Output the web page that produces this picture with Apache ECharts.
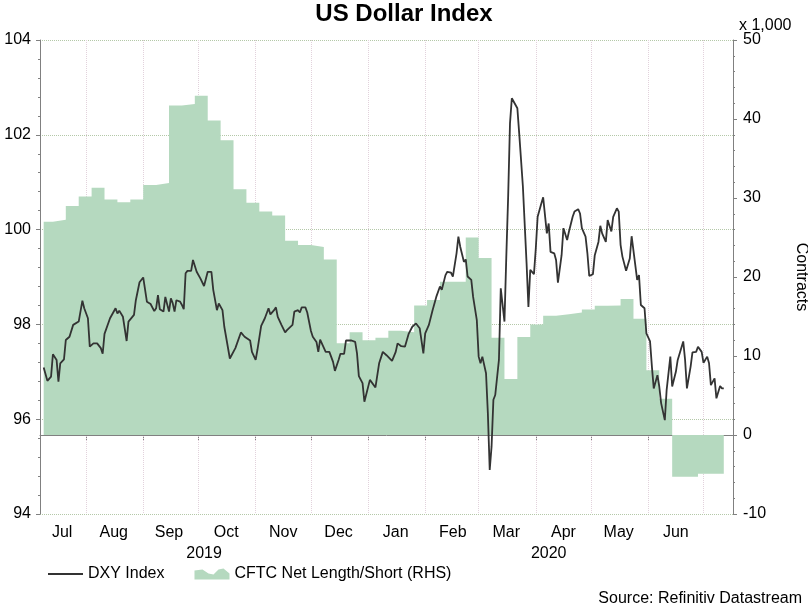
<!DOCTYPE html>
<html>
<head>
<meta charset="utf-8">
<script src="https://cdn.jsdelivr.net/npm/echarts@6/dist/echarts.min.js"></script>
<style>
    html, body { margin: 0; padding: 0; background: #fff; }
    #chart { width: 808px; height: 610px; }
</style>
</head>
<body>
<div id="chart"></div>
<script>
/* DXY Index, daily close */
var dxyDates = [
    '2019-07-09', '2019-07-11', '2019-07-13', '2019-07-14', '2019-07-16', '2019-07-17', '2019-07-18', '2019-07-20',
    '2019-07-21', '2019-07-23', '2019-07-25', '2019-07-28', '2019-07-30', '2019-07-31', '2019-08-02', '2019-08-03',
    '2019-08-05', '2019-08-06', '2019-08-07', '2019-08-09', '2019-08-10', '2019-08-11', '2019-08-14', '2019-08-15',
    '2019-08-17', '2019-08-18', '2019-08-19', '2019-08-21', '2019-08-23', '2019-08-24', '2019-08-25', '2019-08-27',
    '2019-08-28', '2019-08-30', '2019-08-31', '2019-09-01', '2019-09-03', '2019-09-05', '2019-09-07', '2019-09-08',
    '2019-09-09', '2019-09-10', '2019-09-12', '2019-09-13', '2019-09-15', '2019-09-16', '2019-09-17', '2019-09-18',
    '2019-09-19', '2019-09-21', '2019-09-22', '2019-09-23', '2019-09-24', '2019-09-25', '2019-09-27', '2019-09-28',
    '2019-09-30', '2019-10-02', '2019-10-04', '2019-10-06', '2019-10-08', '2019-10-09', '2019-10-11', '2019-10-12',
    '2019-10-14', '2019-10-15', '2019-10-18', '2019-10-19', '2019-10-21', '2019-10-22', '2019-10-24', '2019-10-26',
    '2019-10-29', '2019-10-30', '2019-11-01', '2019-11-02', '2019-11-04', '2019-11-05', '2019-11-06', '2019-11-08',
    '2019-11-09', '2019-11-11', '2019-11-12', '2019-11-13', '2019-11-15', '2019-11-17', '2019-11-18', '2019-11-21',
    '2019-11-22', '2019-11-24', '2019-11-25', '2019-11-26', '2019-11-28', '2019-11-29', '2019-12-01', '2019-12-02',
    '2019-12-04', '2019-12-05', '2019-12-06', '2019-12-07', '2019-12-09', '2019-12-11', '2019-12-13', '2019-12-14',
    '2019-12-16', '2019-12-17', '2019-12-19', '2019-12-20', '2019-12-23', '2019-12-25', '2019-12-26', '2019-12-27',
    '2019-12-29', '2019-12-30', '2019-12-31', '2020-01-02', '2020-01-03', '2020-01-05', '2020-01-07', '2020-01-09',
    '2020-01-11', '2020-01-12', '2020-01-14', '2020-01-16', '2020-01-17', '2020-01-19', '2020-01-21', '2020-01-23',
    '2020-01-25', '2020-01-27', '2020-01-29', '2020-01-31', '2020-02-01', '2020-02-03', '2020-02-05', '2020-02-07',
    '2020-02-09', '2020-02-10', '2020-02-12', '2020-02-13', '2020-02-15', '2020-02-16', '2020-02-18', '2020-02-19',
    '2020-02-20', '2020-02-22', '2020-02-23', '2020-02-24', '2020-02-26', '2020-02-27', '2020-02-29', '2020-03-01',
    '2020-03-02', '2020-03-03', '2020-03-05', '2020-03-06', '2020-03-07', '2020-03-08', '2020-03-09', '2020-03-10',
    '2020-03-12', '2020-03-13', '2020-03-15', '2020-03-16', '2020-03-17', '2020-03-18', '2020-03-19', '2020-03-20',
    '2020-03-22', '2020-03-23', '2020-03-25', '2020-03-27', '2020-03-28', '2020-03-29', '2020-03-31', '2020-04-01',
    '2020-04-02', '2020-04-04', '2020-04-05', '2020-04-07', '2020-04-08', '2020-04-09', '2020-04-11', '2020-04-12',
    '2020-04-13', '2020-04-15', '2020-04-16', '2020-04-18', '2020-04-19', '2020-04-21', '2020-04-22', '2020-04-24',
    '2020-04-25', '2020-04-26', '2020-04-28', '2020-04-29', '2020-04-30', '2020-05-02', '2020-05-03', '2020-05-05',
    '2020-05-06', '2020-05-07', '2020-05-09', '2020-05-10', '2020-05-12', '2020-05-13', '2020-05-15', '2020-05-16',
    '2020-05-17', '2020-05-18', '2020-05-20', '2020-05-22', '2020-05-23', '2020-05-24', '2020-05-26', '2020-05-27',
    '2020-05-28', '2020-05-30', '2020-05-31', '2020-06-02', '2020-06-03', '2020-06-04', '2020-06-06', '2020-06-07',
    '2020-06-08', '2020-06-10', '2020-06-11', '2020-06-13', '2020-06-14', '2020-06-16', '2020-06-17', '2020-06-20',
    '2020-06-21', '2020-06-22', '2020-06-24', '2020-06-25', '2020-06-27', '2020-06-28', '2020-06-30', '2020-07-01',
    '2020-07-03', '2020-07-04', '2020-07-05', '2020-07-07', '2020-07-08', '2020-07-10', '2020-07-11', '2020-07-12'
];
var dxyValues = [
    97.09, 96.81, 96.90, 97.37, 97.25, 96.79, 97.18, 97.26,
    97.67, 97.74, 97.99, 98.06, 98.50, 98.34, 98.13, 97.53,
    97.60, 97.57, 97.60, 97.50, 97.38, 97.80, 98.13, 98.15,
    98.34, 98.23, 98.29, 98.16, 97.65, 98.06, 98.08, 98.20,
    98.51, 98.89, 98.90, 98.99, 98.48, 98.43, 98.28, 98.34,
    98.62, 98.32, 98.27, 98.58, 98.27, 98.55, 98.45, 98.27,
    98.51, 98.48, 98.41, 98.32, 99.08, 99.13, 99.13, 99.36,
    99.11, 98.97, 98.81, 99.11, 99.11, 98.73, 98.30, 98.44,
    98.30, 97.95, 97.28, 97.31, 97.50, 97.46, 97.83, 97.74,
    97.66, 97.42, 97.25, 97.47, 97.97, 97.95, 98.13, 98.34,
    98.21, 98.30, 98.36, 98.16, 97.99, 97.83, 97.88, 97.99,
    98.27, 98.30, 98.25, 98.36, 98.36, 98.25, 97.86, 97.74,
    97.63, 97.42, 97.68, 97.66, 97.42, 97.42, 97.21, 97.02,
    97.25, 97.38, 97.38, 97.66, 97.66, 97.63, 97.39, 96.91,
    96.76, 96.37, 96.37, 96.83, 96.86, 96.67, 97.18, 97.42,
    97.35, 97.35, 97.23, 97.42, 97.60, 97.54, 97.53, 97.80,
    97.95, 98.02, 97.92, 97.39, 97.81, 97.99, 98.30, 98.58,
    98.80, 98.73, 99.04, 99.11, 99.09, 99.01, 99.50, 99.85,
    99.64, 99.32, 99.37, 99.01, 98.94, 98.58, 98.09, 97.32,
    97.18, 97.32, 96.97, 96.12, 94.93, 95.42, 96.41, 96.51,
    97.25, 98.76, 98.06, 99.43, 100.69, 102.24, 102.77, 102.80,
    102.56, 102.03, 100.91, 99.29, 98.37, 99.15, 99.06, 99.60,
    100.27, 100.55, 100.68, 99.92, 100.13, 99.53, 99.50, 99.36,
    98.88, 99.46, 100.03, 99.78, 99.96, 100.27, 100.38, 100.43,
    100.34, 100.03, 99.85, 99.50, 99.02, 99.06, 99.46, 99.74,
    100.08, 99.92, 99.74, 100.20, 99.96, 100.27, 100.45, 100.38,
    99.68, 99.43, 99.13, 99.39, 99.86, 99.86, 98.94, 99.04,
    98.41, 98.34, 97.81, 97.64, 97.11, 96.65, 96.93, 96.69,
    96.34, 95.98, 96.62, 97.32, 96.69, 97.00, 97.25, 97.64,
    97.25, 96.65, 97.11, 97.41, 97.42, 97.53, 97.42, 97.19,
    97.32, 97.18, 96.72, 96.86, 96.44, 96.70, 96.65, 96.65
];

/* CFTC net length/short, weekly, x 1,000 contracts */
var cftcDates = [
    '2019-07-09', '2019-07-14', '2019-07-21', '2019-07-28', '2019-08-04', '2019-08-11', '2019-08-18', '2019-08-25',
    '2019-09-01', '2019-09-08', '2019-09-15', '2019-09-22', '2019-09-29', '2019-10-06', '2019-10-13', '2019-10-20',
    '2019-10-27', '2019-11-03', '2019-11-10', '2019-11-17', '2019-11-24', '2019-12-01', '2019-12-08', '2019-12-15',
    '2019-12-22', '2019-12-29', '2020-01-05', '2020-01-12', '2020-01-19', '2020-01-26', '2020-02-02', '2020-02-09',
    '2020-02-16', '2020-02-23', '2020-03-01', '2020-03-08', '2020-03-15', '2020-03-22', '2020-03-29', '2020-04-05',
    '2020-04-12', '2020-04-19', '2020-04-26', '2020-05-03', '2020-05-10', '2020-05-17', '2020-05-24', '2020-05-31',
    '2020-06-07', '2020-06-14', '2020-06-21', '2020-06-28', '2020-07-05', '2020-07-12'
];
var cftcValues = [
    27.0, 27.25, 29.0, 30.2, 31.3, 29.8, 29.45, 29.8,
    31.65, 31.9, 41.7, 41.9, 42.95, 39.8, 37.3, 31.1,
    29.4, 28.3, 27.8, 24.6, 24.05, 23.8, 22.2, 11.6,
    13.0, 12.0, 12.3, 13.2, 13.0, 16.4, 17.1, 19.4,
    19.4, 25.0, 22.4, 12.3, 7.1, 12.4, 14.0, 15.1,
    15.3, 15.5, 15.9, 16.35, 16.4, 17.2, 14.7, 8.2,
    4.6, -5.3, -5.3, -4.9, -4.9, -4.9
];

/* Etiquetas del eje x */
var monthLabels = ['Jul', 'Aug', 'Sep', 'Oct', 'Nov', 'Dec', 'Jan', 'Feb', 'Mar', 'Apr', 'May', 'Jun'];
var monthLabelDates = ['2019-07-19', '2019-08-16', '2019-09-15', '2019-10-16', '2019-11-16', '2019-12-16',
    '2020-01-16', '2020-02-16', '2020-03-16', '2020-04-16', '2020-05-16', '2020-06-16'];
var yearLabels = ['2019', '2020'];
var yearLabelDates = ['2019-10-04', '2020-04-08'];
var axisStart = '2019-07-07';
var axisEnd = '2020-07-17';

/* one category per calendar day */
var days = [];
var t = Date.parse(axisStart + 'T00:00:00Z');
var tEnd = Date.parse(axisEnd + 'T00:00:00Z');
while (t <= tEnd) {
    days.push(new Date(t).toISOString().slice(0, 10));
    t += 86400000;
}

var isMonthStart = function (index, value) {
    return value.slice(8) === '01';
};

var areaColor = '#b5d9bf';
var lineColor = '#333333';
var font = 'Liberation Sans, Arial, sans-serif';

var dom = document.getElementById('chart');
var myChart = echarts.init(dom);
var option = {
    animation: false,
    textStyle: { fontFamily: font },
    title: [{
        text: 'US Dollar Index',
        left: 'center',
        top: 2,
        padding: 0,
        textStyle: { fontSize: 24, fontWeight: 'bold', color: '#000', fontFamily: font }
    }, {
        text: 'x 1,000',
        left: 739,
        top: 18,
        padding: 0,
        textStyle: { fontSize: 16, fontWeight: 'normal', color: '#000', fontFamily: font }
    }, {
        text: 'Source: Refinitiv Datastream',
        right: 6,
        top: 591,
        padding: 0,
        textStyle: { fontSize: 16, fontWeight: 'normal', color: '#000', fontFamily: font }
    }],
    legend: {
        left: 48,
        top: 566,
        padding: 0,
        itemWidth: 35,
        itemHeight: 12,
        itemGap: 30,
        symbolKeepAspect: true,
        textStyle: { fontSize: 16, color: '#000', fontFamily: font },
        data: [{
            name: 'DXY Index',
            icon: 'path://M0,0 L35,0 L35,2 L0,2 Z',
            itemStyle: { color: lineColor }
        }, {
            name: 'CFTC Net Length/Short (RHS)',
            icon: 'path://M0,3 L8,2 L14,6 L19,7 L24,2 L29,1 L35,6 L35,12 L0,12 Z',
            itemStyle: { color: areaColor }
        }]
    },
    grid: {
        left: 40,
        right: 75,
        top: 40,
        bottom: 96,
        containLabel: false,
        outerBoundsMode: 'none'
    },
    xAxis: [{
        type: 'category',
        data: days,
        boundaryGap: false,
        axisLine: { lineStyle: { color: '#808080' } },
        axisTick: {
            interval: isMonthStart,
            length: 5,
            lineStyle: { color: '#808080' }
        },
        axisLabel: {
            interval: function (index, value) {
                return monthLabelDates.indexOf(value) >= 0;
            },
            formatter: function (value) {
                return monthLabels[monthLabelDates.indexOf(value)];
            },
            color: '#000',
            fontSize: 16,
            fontFamily: font,
            margin: 11
        },
        splitLine: { show: false }
    }, {
        // year row, also draws the month grid lines over the area
        type: 'category',
        data: days,
        boundaryGap: false,
        position: 'bottom',
        z: 3,
        axisLine: { show: false },
        axisTick: { show: false },
        axisLabel: {
            interval: function (index, value) {
                return yearLabelDates.indexOf(value) >= 0;
            },
            formatter: function (value) {
                return yearLabels[yearLabelDates.indexOf(value)];
            },
            color: '#000',
            fontSize: 16,
            fontFamily: font,
            margin: 32
        },
        splitLine: {
            show: true,
            interval: isMonthStart,
            lineStyle: { color: '#e2d2dc', type: 'dotted', width: 1 }
        }
    }],
    yAxis: [{
        type: 'value',
        position: 'left',
        min: 94,
        max: 104,
        interval: 2,
        axisLine: { show: true, lineStyle: { color: '#808080' } },
        axisTick: { show: true, length: 4, lineStyle: { color: '#808080' } },
        minorTick: { show: true, splitNumber: 5, length: 2, lineStyle: { color: '#808080' } },
        axisLabel: { color: '#000', fontSize: 16, fontFamily: font, margin: 9 },
        splitLine: { lineStyle: { color: '#b4c8a8', type: 'dotted' } }
    }, {
        type: 'value',
        position: 'right',
        min: -10,
        max: 50,
        interval: 10,
        name: 'Contracts',
        nameLocation: 'middle',
        nameRotate: -90,
        nameGap: 60,
        nameTextStyle: { color: '#000', fontSize: 16, fontFamily: font },
        axisLine: { show: true, lineStyle: { color: '#808080' } },
        axisTick: { show: true, length: 4, lineStyle: { color: '#808080' } },
        minorTick: { show: true, splitNumber: 5, length: 2, lineStyle: { color: '#808080' } },
        axisLabel: { color: '#000', fontSize: 16, fontFamily: font, margin: 10 },
        splitLine: { show: false }
    }],
    series: [{
        name: 'CFTC Net Length/Short (RHS)',
        type: 'line',
        xAxisIndex: 0,
        yAxisIndex: 1,
        step: 'end',
        symbol: 'none',
        color: areaColor,
        lineStyle: { width: 0, color: areaColor },
        areaStyle: { color: areaColor, opacity: 1 },
        data: cftcDates.map(function (d, i) { return [d, cftcValues[i]]; })
    }, {
        name: 'DXY Index',
        type: 'line',
        xAxisIndex: 0,
        yAxisIndex: 0,
        symbol: 'none',
        color: lineColor,
        lineStyle: { width: 1.8, color: lineColor },
        data: dxyDates.map(function (d, i) { return [d, dxyValues[i]]; })
    }]
};
myChart.setOption(option);
</script>
</body>
</html>
